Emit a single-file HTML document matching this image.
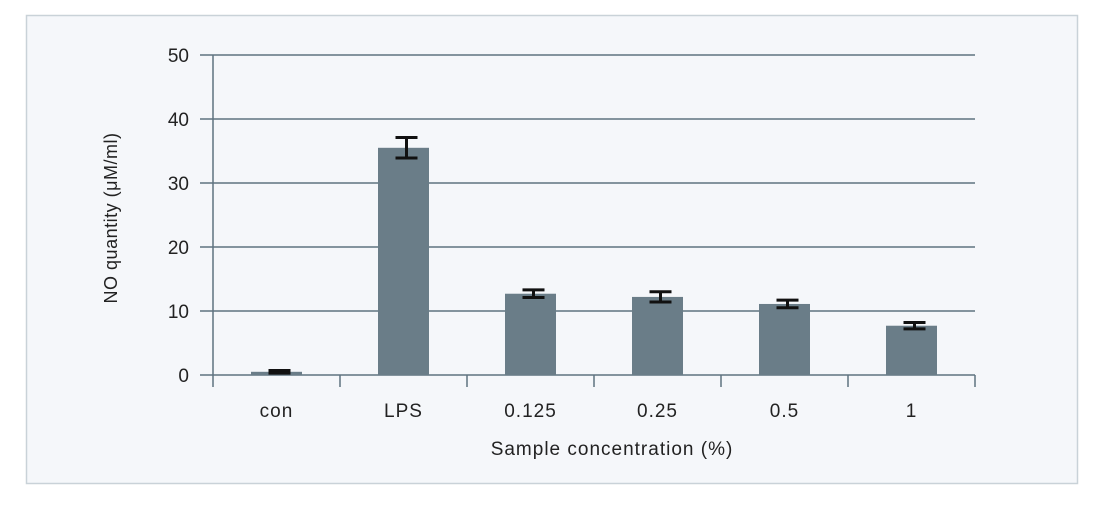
<!DOCTYPE html>
<html><head><meta charset="utf-8"><style>
body{margin:0;background:#fff;width:1098px;height:520px;overflow:hidden;font-family:"Liberation Sans","DejaVu Sans",sans-serif}
</style></head><body>
<svg width="1098" height="520">
<rect x="26.5" y="15.5" width="1051" height="468" fill="#f5f7fa" stroke="#c9d2d8" stroke-width="1.5"/>
<g id="grid"></g>
<g id="bars"></g>
<g id="axes"></g>
<text x="117" y="218" transform="rotate(-90 117 218)" text-anchor="middle" font-size="18" fill="#222" letter-spacing="0.5">NO quantity (μM/ml)</text>
<text x="612" y="455" text-anchor="middle" font-size="19" fill="#222" letter-spacing="1">Sample concentration (%)</text>
</svg>
<script>
const categories=["con","LPS","0.125","0.25","0.5","1"];
const values=[0.5,35.5,12.7,12.2,11.1,7.7];
const errors=[0.2,1.6,0.6,0.8,0.6,0.5];
const yTicks=[0,10,20,30,40,50];
const NS="http://www.w3.org/2000/svg";
const x0=213,x1=975,yb=375,yt=55,ymax=50;
const bw=(x1-x0)/categories.length;
function y(v){return yb-(v/ymax)*(yb-yt);}
function xc(i){return x0+bw*(i+0.5);}
function mk(tag,attrs,parent){const e=document.createElementNS(NS,tag);for(const k in attrs)e.setAttribute(k,attrs[k]);parent.appendChild(e);return e;}
const grid=document.getElementById('grid'),bars=document.getElementById('bars'),axes=document.getElementById('axes');
yTicks.forEach(t=>{
  const l=mk('line',{x1:200,x2:x1,y1:y(t),y2:y(t),stroke:'#5f7380','stroke-width':1.5},grid);
  
  
  const tx=mk('text',{x:189,y:y(t)+7,'text-anchor':'end','font-size':19,fill:'#222'},axes);
  tx.textContent=t;
  
  
});
const ax=mk('line',{x1:x0,x2:x0,y1:yt,y2:yb+12,stroke:'#5f7380','stroke-width':1.5},axes);


for(let i=1;i<=categories.length;i++){
  const tk=mk('line',{x1:x0+bw*i,x2:x0+bw*i,y1:yb,y2:yb+12,stroke:'#5f7380','stroke-width':1.5},axes);
  
  
}
categories.forEach((c,i)=>{
  const cx=xc(i),w=51;
  const r=mk('rect',{x:cx-w/2,y:y(values[i]),width:w,height:yb-y(values[i]),fill:'#6a7d88'},bars);
  
  
  const ex=cx+3,hi=y(values[i]+errors[i]),lo=y(values[i]-errors[i]);
  const g=mk('g',{stroke:'#111','stroke-width':3},bars);
  
  
  mk('line',{x1:ex,x2:ex,y1:hi,y2:lo},g);
  mk('line',{x1:ex-11,x2:ex+11,y1:hi,y2:hi},g);
  mk('line',{x1:ex-11,x2:ex+11,y1:lo,y2:lo},g);
  const t=mk('text',{x:cx,y:417,'text-anchor':'middle','font-size':19,fill:'#222','letter-spacing':1},axes);
  t.textContent=c;
  
  
});
</script>
</body></html>
